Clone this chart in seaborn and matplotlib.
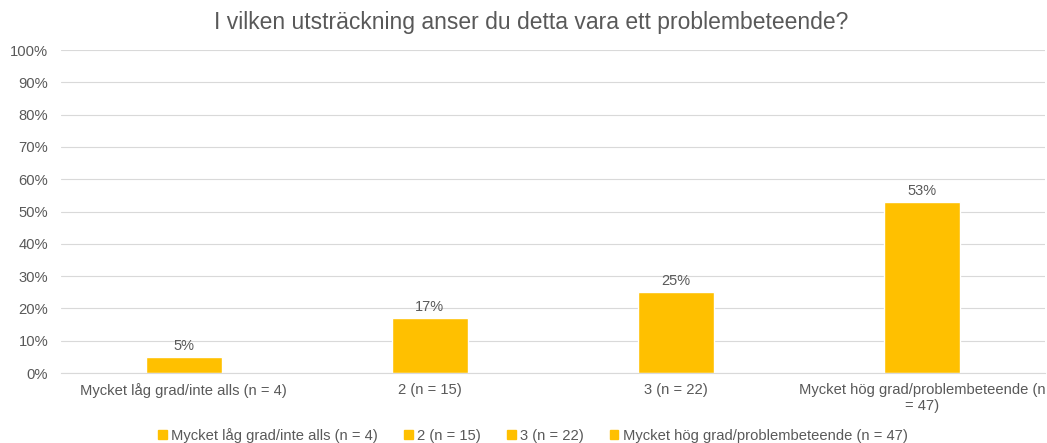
import pandas as pd
import matplotlib.pyplot as plt
import matplotlib.patches as mpatches
import seaborn as sns

# Chart data
categories = ['Mycket låg grad/inte alls (n = 4)', '2 (n = 15)', '3 (n = 22)',
              'Mycket hög grad/problembeteende (n = 47)']
tick_labels = ['Mycket låg grad/inte alls (n = 4)', '2 (n = 15)', '3 (n = 22)',
               'Mycket hög grad/problembeteende (n\n= 47)']
shares = [0.05, 0.17, 0.25, 0.53]

df = pd.DataFrame({'category': categories, 'share': shares})

sns.set_style("white")
plt.rcParams['font.family'] = ['Liberation Sans', 'DejaVu Sans']

gold = '#FFC000'
grey = '#595959'

fig = plt.figure(figsize=(10.47, 4.43), dpi=100)
ax = fig.add_axes([0.058, 0.158, 0.94, 0.729])

sns.barplot(data=df, x='category', y='share', color=gold, width=0.31, ax=ax,
            saturation=1)

# Labels above bars
for p, v in zip(ax.patches, shares):
    ax.text(p.get_x() + p.get_width() / 2, v + 0.012, f'{v:.0%}',
            ha='center', va='bottom', fontsize=10.5, color=grey)

ax.set_ylim(0, 1)
ax.set_xlim(-0.5, 3.5)
ax.set_yticks([i / 10 for i in range(11)])
ax.set_yticklabels([f'{i * 10}%' for i in range(11)])
ax.set_xticks(range(len(categories)))
ax.set_xticklabels(tick_labels)
ax.grid(axis='y', color='#D9D9D9', linewidth=0.8)
ax.set_axisbelow(True)
ax.tick_params(axis='both', length=0, labelsize=10.6, colors=grey)
ax.tick_params(axis='x', pad=7)
ax.tick_params(axis='y', pad=9)
for side in ['top', 'right', 'left']:
    ax.spines[side].set_visible(False)
ax.spines['bottom'].set_color('#D9D9D9')
ax.set_xlabel('')
ax.set_ylabel('')

fig.suptitle('I vilken utsträckning anser du detta vara ett problembeteende?',
             fontsize=16.5, color=grey, x=0.507, y=0.95, va='center')

handles = [mpatches.Patch(color=gold, label=c) for c in categories]
fig.legend(handles=handles, loc='center', ncol=4, frameon=False,
           fontsize=10.6, labelcolor=grey, bbox_to_anchor=(0.509, 0.018),
           handlelength=0.6, handleheight=0.6, handletextpad=0.3,
           columnspacing=1.75)

plt.savefig('out.png', dpi=100)
